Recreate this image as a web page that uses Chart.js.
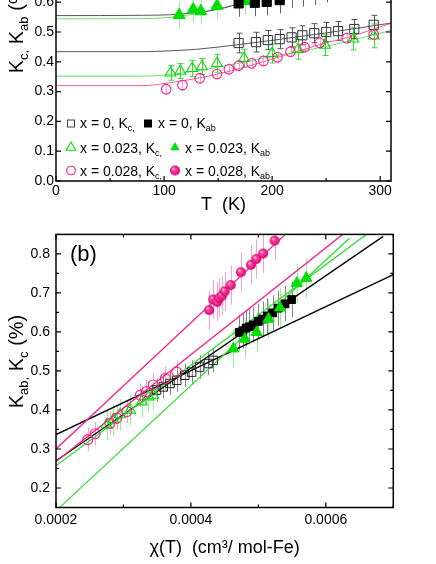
<!DOCTYPE html>
<html><head><meta charset="utf-8">
<script src="https://cdn.jsdelivr.net/npm/chart.js@4.4.1/dist/chart.umd.min.js"></script>
<style>
html,body{margin:0;padding:0;background:#fff;overflow:hidden;width:436px;height:564px;}
#wrapA{position:absolute;left:0;top:-40px;width:436px;height:260px;}
#wrapB{position:absolute;left:0;top:220px;width:436px;height:344px;}
canvas{display:block;}
</style></head><body>
<div id="wrapA"><canvas id="ca" width="436" height="260"></canvas></div>
<div id="wrapB"><canvas id="cb" width="436" height="344"></canvas></div>
<script>
// ================= DATA: panel (a)  K vs T =================
const aXTicks = [0, 100, 200, 300];
const aXMinor = [50, 150, 250];
const aYTicks = [0.0, 0.1, 0.2, 0.3, 0.4, 0.5, 0.6];

// x = 0, Kc (open squares)
const aT_x0_Kc = [169, 185, 196, 207, 218, 228, 239, 250, 261, 276, 294];
const aK_x0_Kc = [0.463, 0.466, 0.473, 0.476, 0.482, 0.489, 0.496, 0.500, 0.503, 0.510, 0.524];
const aE_x0_Kc = [0.033, 0.033, 0.032, 0.032, 0.032, 0.032, 0.032, 0.032, 0.032, 0.032, 0.032];
// x = 0, Kab (filled squares)
const aT_x0_Kab = [169, 184, 195, 207, 218, 229, 240, 251, 262, 277, 294];
const aK_x0_Kab = [0.596, 0.598, 0.601, 0.607, 0.625, 0.630, 0.636, 0.644, 0.652, 0.665, 0.684];
const aE_x0_Kab = [0.045, 0.045, 0.045, 0.045, 0.045, 0.045, 0.045, 0.045, 0.045, 0.045, 0.045];
// x = 0.023, Kc (open triangles)
const aT_x23_Kc = [106, 115, 126, 135, 149, 174, 200, 224, 249, 275, 294];
const aK_x23_Kc = [0.363, 0.369, 0.378, 0.384, 0.395, 0.412, 0.428, 0.442, 0.456, 0.477, 0.487];
const aE_x23_Kc = [0.025, 0.025, 0.027, 0.027, 0.030, 0.030, 0.032, 0.033, 0.035, 0.037, 0.040];
// x = 0.023, Kab (filled triangles)
const aT_x23_Kab = [114, 127, 134, 149, 175];
const aK_x23_Kab = [0.557, 0.576, 0.570, 0.588, 0.604];
const aE_x23_Kab = [0.045, 0.045, 0.045, 0.045, 0.045];
// x = 0.028, Kc (open circles)
const aT_x28_Kc = [102, 117, 133, 149, 160, 169, 181, 192, 205, 217, 230, 244, 269, 294];
const aK_x28_Kc = [0.308, 0.322, 0.345, 0.359, 0.375, 0.387, 0.395, 0.403, 0.415, 0.434, 0.449, 0.464, 0.479, 0.492];
const aE_x28_Kc = [0.02, 0.02, 0.02, 0.02, 0.02, 0.02, 0.02, 0.02, 0.02, 0.02, 0.02, 0.02, 0.02, 0.02];
// fit curves
const aFitT_x0_Kc = [0, 80, 100, 130, 170, 200, 250, 310];
const aFitK_x0_Kc = [0.434, 0.434, 0.436, 0.442, 0.458, 0.472, 0.497, 0.530];
const aFitT_x23_Kc = [0, 80, 105, 150, 200, 250, 310];
const aFitK_x23_Kc = [0.352, 0.352, 0.357, 0.382, 0.418, 0.452, 0.505];
const aFitT_x28_Kc = [0, 80, 102, 150, 200, 250, 270, 310];
const aFitK_x28_Kc = [0.320, 0.320, 0.328, 0.359, 0.409, 0.464, 0.482, 0.529];
const aFitT_x0_Kab = [0, 80, 115, 150, 175, 200];
const aFitK_x0_Kab = [0.555, 0.556, 0.560, 0.576, 0.600, 0.618];
const aFitT_x23_Kab = [0, 80, 115, 150, 175, 200];
const aFitK_x23_Kab = [0.544, 0.545, 0.553, 0.578, 0.600, 0.620];

// ================= DATA: panel (b)  K vs chi =================
const bXTicks = [0.0002, 0.0004, 0.0006];
const bXMinor = [0.0003, 0.0005, 0.0007];
const bYTicks = [0.2, 0.3, 0.4, 0.5, 0.6, 0.7, 0.8];
const bYMinor = [0.25, 0.35, 0.45, 0.55, 0.65, 0.75];

const bC_x0_Kc = [0.000349, 0.000359, 0.000369, 0.000379, 0.000391, 0.000401, 0.000413, 0.000426, 0.000433];
const bK_x0_Kc = [0.451, 0.459, 0.468, 0.476, 0.489, 0.497, 0.510, 0.519, 0.527];
const bE_x0_Kc = [0.03, 0.03, 0.03, 0.03, 0.03, 0.03, 0.03, 0.03, 0.03];

const bC_x0_Kab = [0.0004717, 0.0004768, 0.0004817, 0.0004866, 0.0004925, 0.0004999, 0.0005064, 0.0005132, 0.0005212, 0.0005295, 0.0005395, 0.0005494];
const bK_x0_Kab = [0.599, 0.603, 0.610, 0.613, 0.618, 0.627, 0.633, 0.641, 0.649, 0.661, 0.672, 0.683];
const bE_x0_Kab = [0.045, 0.045, 0.045, 0.045, 0.045, 0.045, 0.045, 0.045, 0.045, 0.045, 0.045, 0.045];

const bC_x23_Kc = [0.000275, 0.000285, 0.000295, 0.000310, 0.000327, 0.000337, 0.000344];
const bK_x23_Kc = [0.362, 0.375, 0.388, 0.400, 0.421, 0.434, 0.438];
const bE_x23_Kc = [0.04, 0.04, 0.04, 0.04, 0.04, 0.04, 0.04];

const bC_x23_Kab = [0.000463, 0.000480, 0.0004975, 0.000515, 0.000532, 0.000557, 0.000571];
const bK_x23_Kab = [0.557, 0.582, 0.599, 0.633, 0.662, 0.725, 0.738];
const bE_x23_Kab = [0.05, 0.05, 0.05, 0.05, 0.05, 0.05, 0.05];

const bC_x28_Kc = [0.000247, 0.000258, 0.000280, 0.000290, 0.000305, 0.000325, 0.000334, 0.000344, 0.000362, 0.000379];
const bK_x28_Kc = [0.324, 0.339, 0.366, 0.379, 0.396, 0.438, 0.447, 0.464, 0.481, 0.497];
const bE_x28_Kc = [0.03, 0.03, 0.03, 0.03, 0.03, 0.03, 0.03, 0.03, 0.03, 0.03];

const bC_x28_Kab = [0.000427, 0.000433, 0.000439, 0.000442, 0.000446, 0.000450, 0.000459, 0.000474, 0.000489, 0.000497, 0.000507, 0.000524];
const bK_x28_Kab = [0.656, 0.683, 0.677, 0.687, 0.693, 0.704, 0.720, 0.753, 0.772, 0.787, 0.801, 0.834];
const bE_x28_Kab = [0.05, 0.05, 0.05, 0.05, 0.05, 0.05, 0.05, 0.05, 0.05, 0.05, 0.05, 0.05];

// linear fits (end points)
const bFitC_x28_Kab = [0.0002, 0.00054];   const bFitK_x28_Kab = [0.300, 0.850];
const bFitC_x28_Kc  = [0.0002, 0.000625];  const bFitK_x28_Kc  = [0.268, 0.850];
const bFitC_x23_Kab = [0.000206, 0.000635];const bFitK_x23_Kab = [0.151, 0.840];
const bFitC_x23_Kc  = [0.0002, 0.00066];   const bFitK_x23_Kc  = [0.257, 0.850];
const bFitC_x0_Kab  = [0.0002, 0.000685];  const bFitK_x0_Kab  = [0.270, 0.845];
const bFitC_x0_Kc   = [0.0002, 0.0007];    const bFitK_x0_Kc   = [0.337, 0.747];

// ================= STYLE =================
const FONT = "'Liberation Sans', Arial, sans-serif";
const PINK = '#ff1a8c', PINK_E = '#ff9cc8';
const GREEN = '#00e000', GREEN_L = '#33dd33', GREEN_E = '#8cf58c';
Chart.defaults.font.family = FONT;
Chart.defaults.color = '#000';

function pts(xs, ys) { return xs.map((v, i) => ({x: v, y: ys[i]})); }

function makeSphere(r) {
  const c = document.createElement('canvas');
  const s = 2 * r + 2; c.width = s; c.height = s;
  const g = c.getContext('2d'); const cx = s / 2, cy = s / 2;
  const grad = g.createRadialGradient(cx - r * 0.35, cy - r * 0.4, r * 0.05, cx, cy, r);
  grad.addColorStop(0, '#ffd0e6'); grad.addColorStop(0.3, '#ff4aa0'); grad.addColorStop(1, '#d4006e');
  g.fillStyle = grad; g.beginPath(); g.arc(cx, cy, r, 0, Math.PI * 2); g.fill();
  return c;
}
const sphere = makeSphere(5);

function drawRich(ctx, x, y, parts, size, rot, align) {
  ctx.save();
  ctx.translate(x, y);
  if (rot) ctx.rotate(rot);
  ctx.fillStyle = '#000'; ctx.textBaseline = 'alphabetic'; ctx.textAlign = 'left';
  const sub = Math.round(size * 0.66);
  let w = 0;
  const ws = parts.map(p => { ctx.font = (p.sub ? sub : size) + 'px ' + FONT; const m = ctx.measureText(p.t).width; w += m; return m; });
  let cx = align === 'center' ? -w / 2 : 0;
  parts.forEach((p, i) => { ctx.font = (p.sub ? sub : size) + 'px ' + FONT; ctx.fillText(p.t, cx, p.sub ? size * 0.24 : 0); cx += ws[i]; });
  ctx.restore();
}

function drawSym(ctx, type, x, y) {
  ctx.save();
  ctx.lineWidth = 1;
  if (type === 'sqOpen') { ctx.strokeStyle = '#444'; ctx.strokeRect(x - 3.5, y - 3.5, 7, 7); }
  else if (type === 'sqFill') { ctx.fillStyle = '#000'; ctx.fillRect(x - 4, y - 4, 8, 8); }
  else if (type === 'triOpen' || type === 'triFill') {
    const r = 5.5;
    ctx.beginPath();
    ctx.moveTo(x, y - r); ctx.lineTo(x + r * 0.866, y + r * 0.5); ctx.lineTo(x - r * 0.866, y + r * 0.5); ctx.closePath();
    if (type === 'triFill') { ctx.fillStyle = GREEN; ctx.fill(); }
    else { ctx.strokeStyle = GREEN; ctx.lineWidth = 1.1; ctx.stroke(); }
  } else if (type === 'cirOpen') { ctx.strokeStyle = PINK; ctx.lineWidth = 1.1; ctx.beginPath(); ctx.arc(x, y, 4.3, 0, Math.PI * 2); ctx.stroke(); }
  else if (type === 'sphere') { ctx.drawImage(sphere, x - sphere.width / 2, y - sphere.height / 2); }
  ctx.restore();
}

// ===== plugins =====
const errorBars = {
  id: 'errorBars',
  beforeDatasetsDraw(chart) {
    const {ctx, chartArea: ca, scales: {x, y}} = chart;
    ctx.save();
    ctx.beginPath(); ctx.rect(ca.left, ca.top, ca.right - ca.left, ca.bottom - ca.top); ctx.clip();
    chart.data.datasets.forEach(ds => {
      if (!ds.err) return;
      ctx.strokeStyle = ds.errColor; ctx.lineWidth = ds.errWidth || 1;
      ds.data.forEach((p, i) => {
        const e = ds.err[i];
        const px = Math.round(x.getPixelForValue(p.x)) + 0.5;
        const y1 = y.getPixelForValue(p.y - e), y2 = y.getPixelForValue(p.y + e);
        ctx.beginPath(); ctx.moveTo(px, y1); ctx.lineTo(px, y2);
        if (ds.errCap) {
          ctx.moveTo(px - ds.errCap, y1); ctx.lineTo(px + ds.errCap, y1);
          ctx.moveTo(px - ds.errCap, y2); ctx.lineTo(px + ds.errCap, y2);
        }
        ctx.stroke();
      });
    });
    ctx.restore();
  }
};

const frame = {
  id: 'frame',
  afterDraw(chart, args, o) {
    const {ctx, chartArea: ca, scales: {x, y}} = chart;
    ctx.save();
    ctx.strokeStyle = '#000'; ctx.lineWidth = 1.2;
    const tick = (vals, len, horiz) => vals.forEach(v => {
      ctx.beginPath();
      if (horiz) {
        const p = x.getPixelForValue(v);
        ctx.moveTo(p, ca.bottom); ctx.lineTo(p, ca.bottom - len);
        ctx.moveTo(p, ca.top); ctx.lineTo(p, ca.top + len);
      } else {
        const p = y.getPixelForValue(v);
        ctx.moveTo(ca.left, p); ctx.lineTo(ca.left + len, p);
        ctx.moveTo(ca.right, p); ctx.lineTo(ca.right - len, p);
      }
      ctx.stroke();
    });
    tick(o.xMajor, 5, true); tick(o.xMinor, 3, true);
    tick(o.yMajor, 5, false); tick(o.yMinor, 3, false);
    ctx.lineWidth = 1.5;
    ctx.strokeRect(ca.left, ca.top, ca.right - ca.left, ca.bottom - ca.top);
    ctx.restore();
    // texts
    (o.texts || []).forEach(t => drawRich(ctx, t.x, t.y, t.parts, t.size, t.rot, t.align));
    (o.syms || []).forEach(s => drawSym(ctx, s.type, s.x, s.y));
  }
};

function xTicksFrom(arr) { return s => { s.ticks = arr.map(v => ({value: v})); }; }

// ================= PANEL (a) =================
const subParts = (pre, sub) => [{t: pre}, {t: sub, sub: true}];
new Chart(document.getElementById('ca'), {
  type: 'scatter',
  plugins: [errorBars, frame],
  data: {
    datasets: [
      {data: pts(aT_x28_Kc, aK_x28_Kc), pointStyle: 'circle', pointRadius: 4.8, borderColor: PINK, backgroundColor: 'rgba(0,0,0,0)', borderWidth: 1.1, err: aE_x28_Kc, errColor: PINK_E},
      {data: pts(aT_x23_Kc, aK_x23_Kc), pointStyle: 'triangle', pointRadius: 6.3, borderColor: GREEN, backgroundColor: 'rgba(0,0,0,0)', borderWidth: 1.1, err: aE_x23_Kc, errColor: GREEN_L, errCap: 3},
      {data: pts(aT_x0_Kc, aK_x0_Kc), pointStyle: 'rect', pointRadius: 6.5, borderColor: '#333', backgroundColor: 'rgba(0,0,0,0)', borderWidth: 1, err: aE_x0_Kc, errColor: '#555', errCap: 3},
      {data: pts(aT_x0_Kab, aK_x0_Kab), pointStyle: 'rect', pointRadius: 6.5, borderColor: '#000', backgroundColor: '#000', borderWidth: 1, err: aE_x0_Kab, errColor: '#666'},
      {data: pts(aT_x23_Kab, aK_x23_Kab), pointStyle: 'triangle', pointRadius: 7, borderColor: GREEN, backgroundColor: GREEN, borderWidth: 1, err: aE_x23_Kab, errColor: GREEN_E},
      {data: pts(aFitT_x0_Kc, aFitK_x0_Kc), showLine: true, pointRadius: 0, borderColor: '#555', borderWidth: 1, cubicInterpolationMode: 'monotone'},
      {data: pts(aFitT_x23_Kc, aFitK_x23_Kc), showLine: true, pointRadius: 0, borderColor: '#66dd66', borderWidth: 1, cubicInterpolationMode: 'monotone'},
      {data: pts(aFitT_x28_Kc, aFitK_x28_Kc), showLine: true, pointRadius: 0, borderColor: '#ff5aa8', borderWidth: 1, cubicInterpolationMode: 'monotone'},
      {data: pts(aFitT_x0_Kab, aFitK_x0_Kab), showLine: true, pointRadius: 0, borderColor: '#555', borderWidth: 1, cubicInterpolationMode: 'monotone'},
      {data: pts(aFitT_x23_Kab, aFitK_x23_Kab), showLine: true, pointRadius: 0, borderColor: '#66dd66', borderWidth: 1, cubicInterpolationMode: 'monotone'}
    ]
  },
  options: {
    responsive: false, animation: false, devicePixelRatio: 1,
    layout: {padding: {left: 0, right: 45, top: 12.4, bottom: 0}},
    plugins: {
      legend: {display: false}, tooltip: {enabled: false},
      frame: {
        xMajor: aXTicks, xMinor: aXMinor, yMajor: aYTicks, yMinor: [],
        texts: [
          {x: 23, y: 66.5, size: 20, rot: -Math.PI / 2, align: 'center', parts: [{t: 'K'}, {t: 'c,', sub: true}, {t: ' K'}, {t: 'ab', sub: true}, {t: ' (%)'}]},
          {x: 80, y: 168, size: 14, parts: subParts('x = 0, K', 'c,')},
          {x: 158, y: 168, size: 14, parts: subParts('x = 0, K', 'ab')},
          {x: 80, y: 192.5, size: 14, parts: subParts('x = 0.023, K', 'c,')},
          {x: 185, y: 192.5, size: 14, parts: subParts('x = 0.023, K', 'ab')},
          {x: 80, y: 215.5, size: 14, parts: subParts('x = 0.028, K', 'c,')},
          {x: 185, y: 215.5, size: 14, parts: subParts('x = 0.028, K', 'ab')}
        ],
        syms: [
          {type: 'sqOpen', x: 71, y: 163.5}, {type: 'sqFill', x: 148, y: 163.5},
          {type: 'triOpen', x: 71, y: 187.5}, {type: 'triFill', x: 175, y: 187.5},
          {type: 'cirOpen', x: 71, y: 210.5}, {type: 'sphere', x: 175, y: 210.5}
        ]
      }
    },
    scales: {
      x: {type: 'linear', min: 0, max: 310,
        grid: {display: false, drawTicks: false}, border: {display: false},
        afterBuildTicks: xTicksFrom(aXTicks),
        ticks: {font: {size: 14}, color: '#000', padding: 2, maxRotation: 0, autoSkip: false, callback: v => String(v)},
        title: {display: true, text: 'T  (K)', font: {size: 18}, color: '#000', padding: {top: 0, bottom: 4}},
        afterFit: s => { s.height = 39; }
      },
      y: {type: 'linear', min: 0, max: 0.7,
        grid: {display: false, drawTicks: false}, border: {display: false},
        afterBuildTicks: xTicksFrom(aYTicks),
        ticks: {font: {size: 14}, color: '#000', padding: 2, autoSkip: false, callback: v => v.toFixed(1)},
        afterFit: s => { s.width = 56; }
      }
    }
  }
});

// ================= PANEL (b) =================
new Chart(document.getElementById('cb'), {
  type: 'scatter',
  plugins: [errorBars, frame],
  data: {
    datasets: [
      {data: pts(bC_x28_Kab, bK_x28_Kab), pointStyle: sphere, pointRadius: 5, err: bE_x28_Kab, errColor: PINK_E},
      {data: pts(bC_x23_Kab, bK_x23_Kab), pointStyle: 'triangle', pointRadius: 6.5, borderColor: GREEN, backgroundColor: GREEN, borderWidth: 1, err: bE_x23_Kab, errColor: GREEN_E},
      {data: pts(bC_x0_Kab, bK_x0_Kab), pointStyle: 'rect', pointRadius: 5.5, borderColor: '#000', backgroundColor: '#000', borderWidth: 1, err: bE_x0_Kab, errColor: '#888'},
      {data: pts(bC_x28_Kc, bK_x28_Kc), pointStyle: 'circle', pointRadius: 5, borderColor: PINK, backgroundColor: 'rgba(0,0,0,0)', borderWidth: 1.1, err: bE_x28_Kc, errColor: PINK_E},
      {data: pts(bC_x23_Kc, bK_x23_Kc), pointStyle: 'triangle', pointRadius: 6.3, borderColor: GREEN, backgroundColor: 'rgba(0,0,0,0)', borderWidth: 1.1, err: bE_x23_Kc, errColor: GREEN_E},
      {data: pts(bC_x0_Kc, bK_x0_Kc), pointStyle: 'rect', pointRadius: 6, borderColor: '#222', backgroundColor: 'rgba(0,0,0,0)', borderWidth: 1, err: bE_x0_Kc, errColor: '#888'},
      {data: pts(bFitC_x28_Kab, bFitK_x28_Kab), showLine: true, pointRadius: 0, borderColor: PINK, borderWidth: 1.3},
      {data: pts(bFitC_x28_Kc, bFitK_x28_Kc), showLine: true, pointRadius: 0, borderColor: PINK, borderWidth: 1.3},
      {data: pts(bFitC_x23_Kab, bFitK_x23_Kab), showLine: true, pointRadius: 0, borderColor: GREEN_L, borderWidth: 1.3},
      {data: pts(bFitC_x23_Kc, bFitK_x23_Kc), showLine: true, pointRadius: 0, borderColor: GREEN_L, borderWidth: 1.3},
      {data: pts(bFitC_x0_Kab, bFitK_x0_Kab), showLine: true, pointRadius: 0, borderColor: '#000', borderWidth: 1.3},
      {data: pts(bFitC_x0_Kc, bFitK_x0_Kc), showLine: true, pointRadius: 0, borderColor: '#000', borderWidth: 1.3}
    ]
  },
  options: {
    responsive: false, animation: false, devicePixelRatio: 1,
    layout: {padding: {left: 0, right: 42.7, top: 12.7, bottom: 0}},
    plugins: {
      legend: {display: false}, tooltip: {enabled: false},
      frame: {
        xMajor: bXTicks, xMinor: bXMinor, yMajor: bYTicks, yMinor: bYMinor,
        texts: [
          {x: 23.3, y: 141.5, size: 20, rot: -Math.PI / 2, align: 'center', parts: [{t: 'K'}, {t: 'ab,', sub: true}, {t: ' K'}, {t: 'c', sub: true}, {t: ' (%)'}]},
          {x: 70, y: 40.5, size: 22, parts: [{t: '(b)'}]}
        ],
        syms: []
      }
    },
    scales: {
      x: {type: 'linear', min: 0.0002, max: 0.0007,
        grid: {display: false, drawTicks: false}, border: {display: false},
        afterBuildTicks: xTicksFrom(bXTicks),
        ticks: {font: {size: 14}, color: '#000', padding: 4, maxRotation: 0, autoSkip: false, callback: v => v.toFixed(4)},
        title: {display: true, text: 'χ(T)  (cm³/ mol-Fe)', font: {size: 18}, color: '#000', padding: {top: 0, bottom: 5}},
        afterFit: s => { s.height = 56.5; }
      },
      y: {type: 'linear', min: 0.15, max: 0.85,
        grid: {display: false, drawTicks: false}, border: {display: false},
        afterBuildTicks: xTicksFrom(bYTicks),
        ticks: {font: {size: 14}, color: '#000', padding: 6, autoSkip: false, callback: v => v.toFixed(1)},
        afterFit: s => { s.width = 56; }
      }
    }
  }
});
</script>
</body></html>
